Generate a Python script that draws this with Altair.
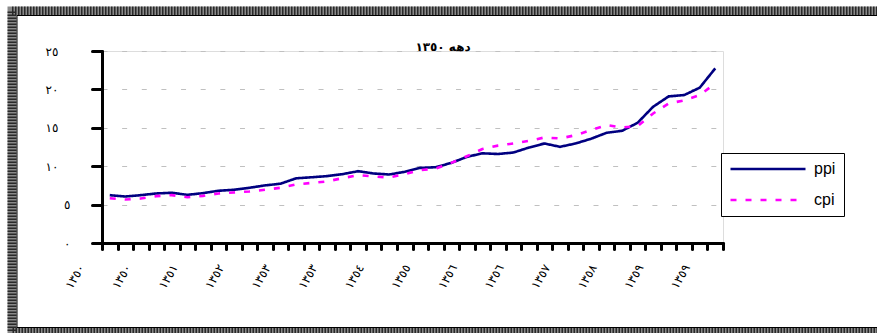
import json
import altair as alt
import pandas as pd

# ---------------- data ----------------
series_names = ["ppi", "cpi"]
series_colors = ["#000080", "#FF00FF"]
series_dashes = [[1, 0], [6, 9]]

ppi = [6.23, 6.05, 6.23, 6.45, 6.54, 6.27, 6.49, 6.80, 6.93, 7.19,
       7.50, 7.72, 8.42, 8.56, 8.71, 8.97, 9.35, 9.05, 8.92, 9.27,
       9.78, 9.87, 10.43, 11.21, 11.68, 11.59, 11.78, 12.43, 12.96, 12.52,
       12.96, 13.57, 14.35, 14.61, 15.65, 17.74, 19.09, 19.26, 20.22, 22.74]

cpi = [5.83, 5.66, 5.79, 6.10, 6.23, 5.96, 6.14, 6.45, 6.58, 6.71,
       6.93, 7.19, 7.63, 7.82, 8.02, 8.45, 8.84, 8.66, 8.53, 8.97,
       9.48, 9.70, 10.43, 11.29, 12.24, 12.68, 12.96, 13.30, 13.74, 13.61,
       14.04, 14.70, 15.35, 15.04, 15.22, 16.87, 18.17, 18.57, 19.26, 20.78]

x_labels = ["١٣٥٠", "١٣٥٠", "١٣٥١", "١٣٥٢", "١٣٥٣", "١٣٥٣", "١٣٥٤",
            "١٣٥٥", "١٣٥٦", "١٣٥٦", "١٣٥٧", "١٣٥٨", "١٣٥٩", "١٣٥٩"]
y_ticks = [0, 5, 10, 15, 20, 25]
y_labels = ["٠", "٥", "١٠", "١٥", "٢٠", "٢٥"]
title_text = "دهه ١٣٥٠"

n = len(ppi)
rows = []
for s, vals in zip(series_names, [ppi, cpi]):
    for i, v in enumerate(vals):
        rows.append({"q": i + 0.5, "value": v, "series": s})
df = pd.DataFrame(rows)
one = pd.DataFrame({"k": [0]})

x_label_expr = (f"(datum.value % 3 == 0 && datum.value < {n}) ? "
                f"{json.dumps(x_labels, ensure_ascii=False)}[datum.value / 3] : ''")
y_label_expr = f"{json.dumps(y_labels, ensure_ascii=False)}[datum.value / 5]"

legend = alt.Legend(
    title=None, orient="none", legendX=619, legendY=102, direction="vertical",
    symbolType="stroke", symbolSize=5625, symbolStrokeWidth=2.6, clipHeight=16,
    labelFont="Liberation Sans", labelFontSize=16, labelColor="black",
    labelOffset=7, rowPadding=15, padding=8,
    strokeColor="black", fillColor="white",
    labelExpr="datum.label + '\u00a0\u00a0\u00a0'",
)

x_enc = alt.X(
    "q:Q",
    scale=alt.Scale(domain=[0, n], nice=False, zero=False),
    axis=alt.Axis(
        values=list(range(n + 1)), title=None, grid=False,
        domainColor="black", domainWidth=3, domainCap="round",
        tickColor="black", tickWidth=3, tickSize=6, tickCap="round",
        labelExpr=x_label_expr, labelAngle=300, labelAlign="right",
        labelBaseline="middle", labelOffset=-21, labelPadding=16,
        labelFont="DejaVu Sans", labelFontSize=12, labelColor="black",
        labelOverlap=False, labelFlush=False, labelBound=False,
    ),
)
y_enc = alt.Y(
    "value:Q",
    scale=alt.Scale(domain=[0, 25], nice=False),
    axis=alt.Axis(
        values=y_ticks, title=None, grid=True, gridColor="#c0c0c0",
        gridDash=[5, 14.64], gridWidth=1,
        gridOpacity={"condition": {"test": "datum.value == 0", "value": 0}, "value": 1},
        domainColor="black", domainWidth=3, domainCap="round",
        tickColor="black", tickWidth=3, tickSize=10, tickCap="round",
        labelExpr=y_label_expr, labelFont="DejaVu Sans", labelFontSize=12,
        labelColor="black", labelBaseline="middle",
        labelAlign={"condition": {"test": "datum.value >= 10", "value": "left"}, "value": "right"},
        labelPadding={"condition": {"test": "datum.value >= 10", "value": 47}, "value": 22},
    ),
)

lines = alt.Chart(df).mark_line(strokeWidth=2.6).encode(
    x=x_enc,
    y=y_enc,
    color=alt.Color("series:N", scale=alt.Scale(domain=series_names, range=series_colors), legend=legend),
    strokeDash=alt.StrokeDash("series:N", scale=alt.Scale(domain=series_names, range=series_dashes), legend=legend),
)

# decorative patterned frame
border = alt.Chart(one).mark_rect(fillOpacity=0, stroke="#8a8a8a", strokeWidth=9).encode(
    x=alt.value(-90), x2=alt.value(790), y=alt.value(-40), y2=alt.value(281))
border_tex = alt.Chart(one).mark_rect(fillOpacity=0, stroke="black", strokeWidth=9,
                                      strokeDash=[1.5, 1.5], strokeOpacity=0.7).encode(
    x=alt.value(-90), x2=alt.value(790), y=alt.value(-40), y2=alt.value(281))
inner = alt.Chart(one).mark_rect(fillOpacity=0, stroke="black", strokeWidth=1).encode(
    x=alt.value(-85), x2=alt.value(790), y=alt.value(-35.5), y2=alt.value(276.5))

title = alt.Chart(one).mark_text(
    text=title_text, font="DejaVu Sans", fontSize=12, fontWeight="bold",
    align="center", baseline="alphabetic", color="black",
).encode(x=alt.value(341), y=alt.value(-0.5))

chart = alt.layer(border, border_tex, inner, lines, title).properties(
    width=621, height=192,
    padding={"left": 102, "top": 51, "right": 154, "bottom": 90},
    autosize="none",
).configure_view(strokeWidth=0).configure(background="white")

chart.save("out.html", embed_options={"renderer": "svg", "actions": False})
